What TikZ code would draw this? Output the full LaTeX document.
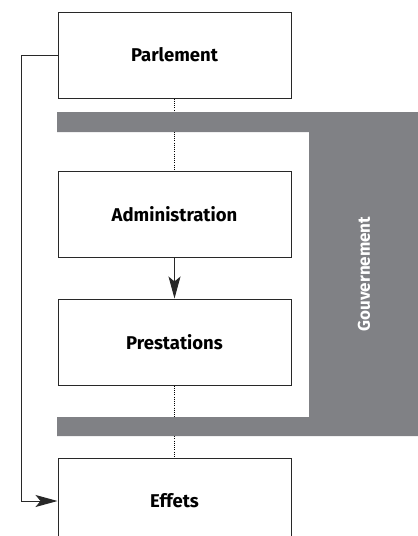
\documentclass[tikz,border=0pt]{standalone}
\usepackage{fontspec}
\setmainfont{Fira Sans}
\usetikzlibrary{positioning,arrows.meta}
\definecolor{bandgray}{RGB}{128,129,133}
\definecolor{linegray}{RGB}{40,40,40}
\begin{document}
\begin{tikzpicture}[x=1pt, y=-1pt, node distance=72pt,
    box/.style={rectangle, draw=linegray, line width=1pt, fill=white,
        minimum width=233pt, minimum height=86pt, inner sep=0pt,
        font=\fontsize{18.5}{20}\selectfont\bfseries},
    tip/.style={-{Stealth[length=22pt, width=12pt, inset=5pt]}}]
    \useasboundingbox (0,0) rectangle (418,536);
    \node[box] (parl) at (174.5,55) {Parlement};
    \node[box, below=of parl] (admin) {Administration};
    \node[box, below=41pt of admin] (prest) {Prestations};
    \node[box, below=of prest] (effets) {Effets};
    % liens pointilles sous le gouvernement
    \draw[dotted, very thin] (parl) -- (admin);
    \draw[dotted, very thin] (prest) -- (effets);
    \fill[bandgray] (57,112) -- (418,112) -- (418,436) -- (57,436)
        -- (57,417) -- (309,417) -- (309,132) -- (57,132) -- cycle;
    \node[rotate=90, text=white, font=\fontsize{17}{19}\selectfont\bfseries]
        (gouv) at (364,274) {Gouvernement};
    \draw[tip, linegray, line width=1pt] (admin) -- (prest);
    \draw[tip, linegray, line width=1pt] (parl.west) -- ++(-36,0) |- (effets.west);
\end{tikzpicture}
\end{document}
